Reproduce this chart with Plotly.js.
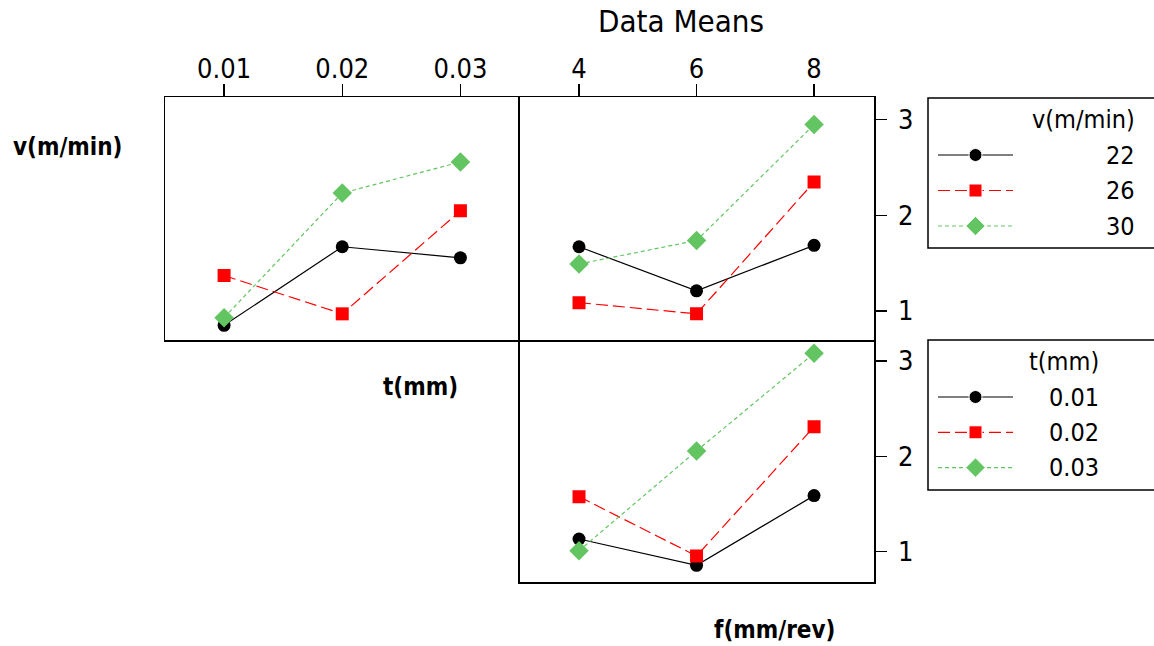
<!DOCTYPE html>
<html>
<head>
<meta charset="utf-8">
<script src="https://cdn.plot.ly/plotly-3.0.1.min.js"></script>
<style>html,body{margin:0;padding:0;background:#fff;}#chart{width:1154px;height:646px;}</style>
</head>
<body>
<div id="chart"></div>
<script>
// ---- data ----
const tLevels = [0.01, 0.02, 0.03];
const tTickText = ['0.01', '0.02', '0.03'];
const fLevels = [4, 6, 8];
const fTickText = ['4', '6', '8'];
const yTicks = [1, 2, 3];

const vNames = ['22', '26', '30'];
const tNames = ['0.01', '0.02', '0.03'];

// means of v-levels over t (top-left panel)
const v22_byT = [0.85, 1.67, 1.555];
const v26_byT = [1.37, 0.97, 2.045];
const v30_byT = [0.93, 2.23, 2.555];
// means of v-levels over f (top-right panel)
const v22_byF = [1.67, 1.21, 1.685];
const v26_byF = [1.087, 0.97, 2.345];
const v30_byF = [1.49, 1.735, 2.945];
// means of t-levels over f (bottom-right panel)
const t01_byF = [1.133, 0.857, 1.588];
const t02_byF = [1.577, 0.955, 2.31];
const t03_byF = [1.01, 2.057, 3.08];

// ---- styles ----
const colors = ['#000000', '#FF0000', '#62C562'];
const dashes = ['solid', '12px,5px', '4px,3px'];
const symbols = ['circle', 'square', 'diamond'];
const msizes = [13, 13, 15];
const FONT = '"DejaVu Sans Condensed", "Liberation Sans Narrow", "DejaVu Sans", sans-serif';

const vByT = [v22_byT, v26_byT, v30_byT];
const vByF = [v22_byF, v26_byF, v30_byF];
const tByF = [t01_byF, t02_byF, t03_byF];

function series(x, y, i, xa, ya) {
  return {
    type: 'scatter', mode: 'lines+markers', x: x, y: y,
    xaxis: xa, yaxis: ya, showlegend: false, hoverinfo: 'skip',
    line: {color: colors[i], width: 1.2, dash: dashes[i]},
    marker: {symbol: symbols[i], size: msizes[i], color: colors[i], opacity: 1}
  };
}

const traces = [];
for (let i = 0; i < 3; i++) traces.push(series(tLevels, vByT[i], i, 'x', 'y'));
for (let i = 0; i < 3; i++) traces.push(series(fLevels, vByF[i], i, 'x2', 'y2'));
for (let i = 0; i < 3; i++) traces.push(series(fLevels, tByF[i], i, 'x3', 'y3'));

// legend samples (drawn on hidden helper axes)
function legendSample(i, xa, ya) {
  return {
    type: 'scatter', mode: 'lines+markers', x: [0, 0.5, 1], y: [i, i, i],
    xaxis: xa, yaxis: ya, showlegend: false, hoverinfo: 'skip',
    line: {color: colors[i], width: 1.2, dash: dashes[i]},
    marker: {symbol: symbols[i], size: [0, msizes[i], 0], color: colors[i], opacity: 1}
  };
}
for (let i = 0; i < 3; i++) traces.push(legendSample(i, 'x4', 'y4'));
for (let i = 0; i < 3; i++) traces.push(legendSample(i, 'x5', 'y5'));

const W = 1154, H = 646;
const px = v => v / W;
const py = v => 1 - v / H;

const boxAxis = {
  showline: true, mirror: true, linecolor: '#000', linewidth: 1.5,
  showgrid: false, zeroline: false, fixedrange: true,
  tickfont: {family: FONT, size: 27, color: '#000'}
};

const xDomL = [px(165), px(519.5)];
const xDomR = [px(519.5), px(874)];
const yDomT = [py(340), py(97)];
const yDomB = [py(582), py(340)];

const helperAxis = {visible: false, showgrid: false, zeroline: false, fixedrange: true};

const annotations = [
  {text: '<b>v(m/min)</b>', x: px(11), y: py(147), xanchor: 'left', yanchor: 'middle'},
  {text: '<b>t(mm)</b>', x: px(420), y: py(387), xanchor: 'center', yanchor: 'middle'},
  {text: '<b>f(mm/rev)</b>', x: px(774), y: py(630), xanchor: 'center', yanchor: 'middle'}
].map(a => Object.assign({xref: 'paper', yref: 'paper', showarrow: false,
  font: {family: FONT, size: 24, color: '#000'}}, a));

function legendTexts(title, names, xRight, ya) {
  annotations.push({text: title, xref: 'paper', yref: ya, x: px(xRight), y: -1,
    xanchor: 'right', yanchor: 'middle', showarrow: false,
    font: {family: FONT, size: 25, color: '#000'}});
  names.forEach((n, i) => annotations.push({text: n, xref: 'paper', yref: ya, x: px(xRight), y: i,
    xanchor: 'right', yanchor: 'middle', showarrow: false,
    font: {family: FONT, size: 25, color: '#000'}}));
}
legendTexts('v(m/min)', vNames, 1137, 'y4');
legendTexts('t(mm)', tNames, 1101, 'y5');

const layout = {
  width: W, height: H,
  margin: {l: 0, r: 0, t: 0, b: 0, autoexpand: false},
  paper_bgcolor: '#fff', plot_bgcolor: 'rgba(0,0,0,0)',
  showlegend: false,
  font: {family: FONT, color: '#000'},
  title: {text: 'Data Means', x: px(681), xref: 'paper', xanchor: 'center', y: py(21), yanchor: 'middle',
    font: {family: FONT, size: 31, color: '#000'}},
  xaxis: Object.assign({}, boxAxis, {domain: xDomL, range: [0.005, 0.035], anchor: 'y', side: 'top',
    tickmode: 'array', tickvals: tLevels, ticktext: tTickText, ticks: 'outside', ticklen: 12, tickwidth: 1.2,
    tickcolor: '#000', ticklabelstandoff: -5}),
  yaxis: Object.assign({}, boxAxis, {domain: yDomT, range: [0.697, 3.233], anchor: 'x', mirror: false,
    showticklabels: false, ticks: ''}),
  xaxis2: Object.assign({}, boxAxis, {domain: xDomR, range: [2.987, 9.02], anchor: 'y2', side: 'top',
    tickmode: 'array', tickvals: fLevels, ticktext: fTickText, ticks: 'outside', ticklen: 12, tickwidth: 1.2,
    tickcolor: '#000', ticklabelstandoff: -5}),
  yaxis2: Object.assign({}, boxAxis, {domain: yDomT, range: [0.697, 3.233], anchor: 'x2', side: 'right',
    tickmode: 'array', tickvals: yTicks, ticks: 'outside', ticklen: 11, tickwidth: 1.2, tickcolor: '#000',
    ticklabelstandoff: 6}),
  xaxis3: Object.assign({}, boxAxis, {domain: xDomR, range: [2.987, 9.02], anchor: 'y3', mirror: false,
    showticklabels: false, ticks: ''}),
  yaxis3: Object.assign({}, boxAxis, {domain: yDomB, range: [0.682, 3.22], anchor: 'x3', side: 'right',
    tickmode: 'array', tickvals: yTicks, ticks: 'outside', ticklen: 11, tickwidth: 1.2, tickcolor: '#000',
    ticklabelstandoff: 6}),
  xaxis4: Object.assign({}, helperAxis, {domain: [px(938), px(1013)], range: [0, 1], anchor: 'y4'}),
  yaxis4: Object.assign({}, helperAxis, {domain: [py(248), py(98)], range: [(150 - 57) / 35.5, -57 / 35.5], anchor: 'x4'}),
  xaxis5: Object.assign({}, helperAxis, {domain: [px(938), px(1013)], range: [0, 1], anchor: 'y5'}),
  yaxis5: Object.assign({}, helperAxis, {domain: [py(490), py(340)], range: [(150 - 57) / 35.3, -57 / 35.3], anchor: 'x5'}),
  shapes: [
    {type: 'rect', xref: 'paper', yref: 'paper', x0: px(928), x1: px(1160), y0: py(248), y1: py(98),
      line: {color: '#000', width: 1.5}},
    {type: 'rect', xref: 'paper', yref: 'paper', x0: px(928), x1: px(1160), y0: py(490), y1: py(340),
      line: {color: '#000', width: 1.5}}
  ],
  annotations: annotations
};

Plotly.newPlot('chart', traces, layout, {staticPlot: true, displayModeBar: false});
</script>
</body>
</html>
